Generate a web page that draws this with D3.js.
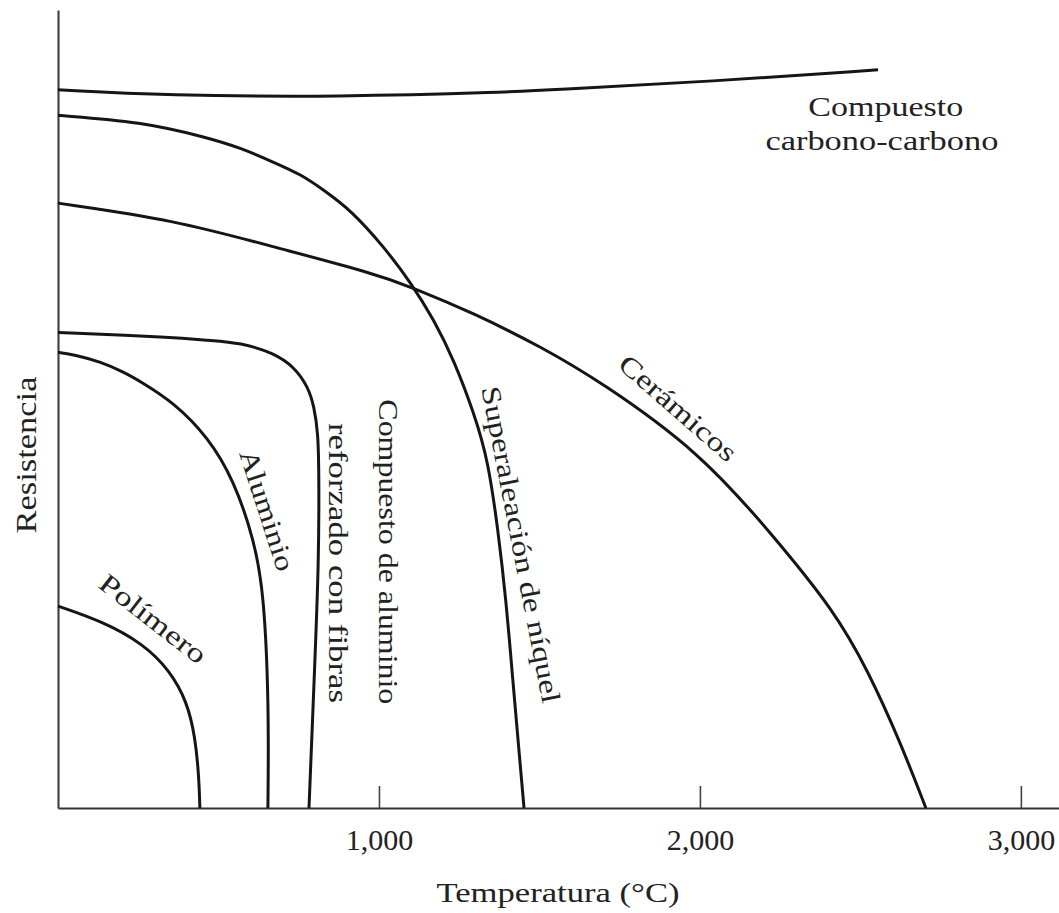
<!DOCTYPE html>
<html>
<head>
<meta charset="utf-8">
<script src="https://cdn.jsdelivr.net/npm/d3@7"></script>
<style>
  body { margin: 0; background: #fff; }
  svg { display: block; }
  text { font-family: "Liberation Serif", "Times New Roman", serif; fill: #222; }
</style>
</head>
<body>
<div id="wrapper"></div>
<script>
// temperature (°C) vs relative strength (arbitrary units, 0-100)
const carbonoCarbono = [[0, 90.0], [330, 89.3], [882, 89.1], [1402, 89.7], [1536, 90.0], [2056, 91.1], [2555, 92.5]];
const superaleacion = [[0, 86.8], [259, 86.0], [467, 84.0], [570, 82.7], [673, 80.9], [757, 79.4], [829, 77.4],
  [913, 74.9], [1016, 70.3], [1100, 65.8], [1171, 61.2], [1234, 56.1], [1296, 49.5], [1340, 43.6], [1371, 34.8],
  [1396, 26.1], [1417, 16.0], [1436, 7.3], [1452, 0]];
const ceramicos = [[0, 75.8], [361, 73.7], [673, 70.3], [984, 67.0], [1100, 65.3], [1296, 62.0], [1505, 57.8],
  [1692, 53.4], [2003, 44.5], [2231, 34.0], [2417, 24.8], [2523, 17.3], [2626, 8.1], [2704, 0]];
const compuestoAluminio = [[0, 59.6], [361, 59.0], [467, 58.6], [570, 58.3], [673, 57.0], [735, 55.3], [779, 52.8],
  [798, 50.3], [810, 47.0], [813, 42.7], [813, 31.1], [798, 16.0], [782, 0]];
const aluminio = [[0, 57.1], [50, 56.8], [134, 55.9], [206, 54.6], [259, 53.4], [361, 50.8], [467, 46.5],
  [548, 41.1], [611, 33.6], [642, 26.9], [657, 12.7], [654, 0]];
const polimero = [[0, 25.3], [137, 23.4], [265, 20.6], [349, 17.2], [402, 13.3], [427, 9.0], [439, 4.0], [442, 0]];

const seriesList = [carbonoCarbono, superaleacion, ceramicos, compuestoAluminio, aluminio, polimero];

const xTicks = [1000, 2000, 3000];
const xTickLabels = ["1,000", "2,000", "3,000"];

// label text + anchor in data units + angle
const labelTexts = ["Polímero", "Aluminio", "Compuesto de aluminio", "reforzado con fibras",
  "Superaleación de níquel", "Cerámicos", "Compuesto", "carbono-carbono"];
const labelAnchors = [[296, 23.7], [651, 37.3], [1028, 32.1], [872, 30.7], [1442, 33.0], [1931, 50.1], [2579, 87.8], [2567, 83.6]];
const labelAngles = [38, 72, 90, 90, 79, 41, 0, 0];
const labelLengths = [128, 126, 305, 280, 322, 147, 155, 233];

const dimensions = { width: 1059, height: 913 };

const svg = d3.select("#wrapper").append("svg")
  .attr("width", dimensions.width)
  .attr("height", dimensions.height);

const xScale = d3.scaleLinear().domain([0, 3125]).range([58, 1061]);
const yScale = d3.scaleLinear().domain([0, 100]).range([808, 10]);

// axes
const xAxis = d3.axisBottom(xScale)
  .tickValues(xTicks)
  .tickFormat((d, i) => xTickLabels[i])
  .tickSizeInner(-22)
  .tickSizeOuter(0)
  .tickPadding(21);

const gx = svg.append("g").attr("transform", `translate(0, ${yScale(0)})`).call(xAxis);
gx.select(".domain").attr("stroke", "#333").attr("stroke-width", 2.2);
gx.selectAll(".tick line").attr("stroke", "#444").attr("stroke-width", 1.6);
gx.selectAll(".tick text")
  .attr("font-size", 30)
  .attr("fill", "#333")
  .style("font-family", "'Liberation Serif', serif");

const gy = svg.append("g").attr("transform", `translate(${xScale(0)}, 0)`)
  .call(d3.axisLeft(yScale).tickValues([]).tickSizeOuter(0));
gy.select(".domain").attr("stroke", "#444").attr("stroke-width", 2.2);

// curves
const line = d3.line()
  .x(d => xScale(d[0]))
  .y(d => yScale(d[1]))
  .curve(d3.curveBasis);

svg.append("g").selectAll("path")
  .data(seriesList)
  .enter()
  .append("path")
  .attr("d", line)
  .attr("fill", "none")
  .attr("stroke", "#151515")
  .attr("stroke-width", 3);

// curve labels
svg.append("g").selectAll("text")
  .data(labelTexts)
  .enter()
  .append("text")
  .attr("transform", (d, i) => `translate(${xScale(labelAnchors[i][0])}, ${yScale(labelAnchors[i][1])}) rotate(${labelAngles[i]})`)
  .attr("text-anchor", "middle")
  .attr("dominant-baseline", "central")
  .attr("font-size", 27)
  .attr("textLength", (d, i) => labelLengths[i])
  .attr("lengthAdjust", "spacingAndGlyphs")
  .text(d => d);

// axis titles
svg.append("text")
  .attr("x", 558)
  .attr("y", 893)
  .attr("text-anchor", "middle")
  .attr("dominant-baseline", "central")
  .attr("font-size", 27)
  .attr("textLength", 243)
  .attr("lengthAdjust", "spacingAndGlyphs")
  .attr("fill", "#333")
  .text("Temperatura (°C)");

svg.append("text")
  .attr("transform", "translate(26, 455) rotate(-90)")
  .attr("text-anchor", "middle")
  .attr("dominant-baseline", "central")
  .attr("font-size", 29)
  .attr("textLength", 157)
  .attr("lengthAdjust", "spacingAndGlyphs")
  .attr("fill", "#333")
  .text("Resistencia");
</script>
</body>
</html>
